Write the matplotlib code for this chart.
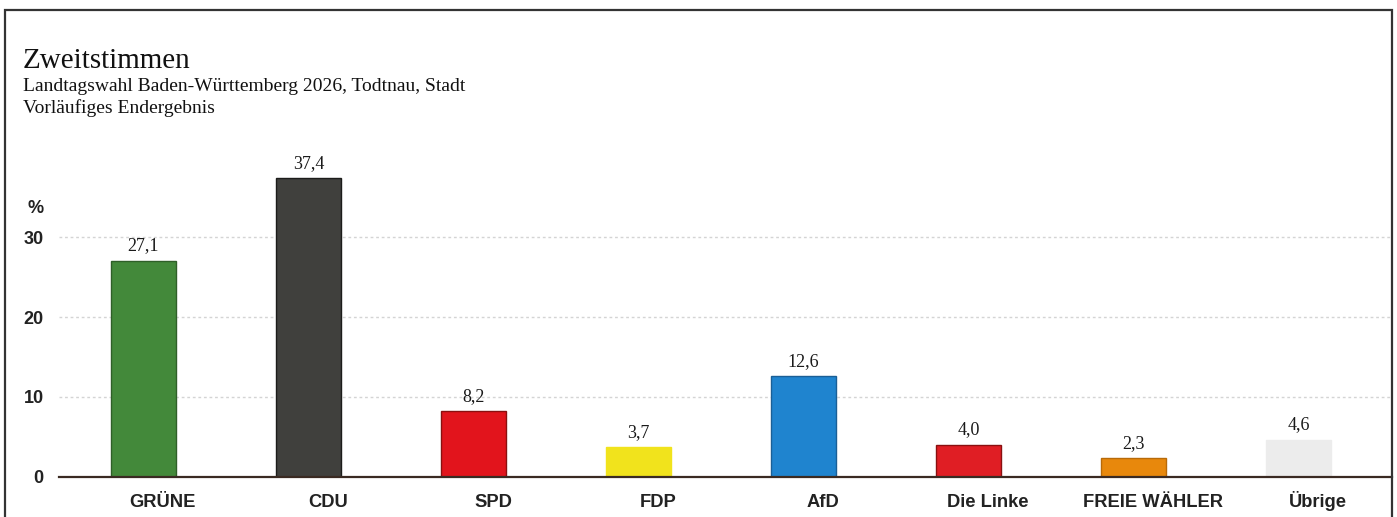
import numpy as np
import matplotlib.pyplot as plt
from matplotlib.patches import Rectangle

# ---- Daten ----
parteien = ['GRÜNE', 'CDU', 'SPD', 'FDP', 'AfD', 'Die Linke', 'FREIE WÄHLER', 'Übrige']
anteile = [27.1, 37.4, 8.2, 3.7, 12.6, 4.0, 2.3, 4.6]
farben = ['#43893a', '#40403d', '#e2141c', '#f1e31c', '#1f84cf', '#e01e24', '#e8880c', '#ececec']
kanten = ['#2f5f28', '#1c1c1a', '#8a1010', '#f1e31c', '#1a5f96', '#8a1010', '#b86a08', '#ececec']
yticks = [0, 10, 20, 30]

titel = 'Zweitstimmen'
untertitel = ['Landtagswahl Baden-Württemberg 2026, Todtnau, Stadt', 'Vorläufiges Endergebnis']

fig = plt.figure(figsize=(13.97, 5.17), dpi=100)
W, H = 1397, 517

# Achse in Pixeln: links 59, rechts 1392, y=0 bei 476.5
ymax = 38.5
px_per = 7.97
ax = fig.add_axes([59 / W, (H - 476.5) / H, (1392 - 59) / W, ymax * px_per / H])

x = np.arange(len(parteien))
ax.bar(x, anteile, width=0.394, color=farben, edgecolor=kanten, linewidth=1.0, zorder=3)

# Werte über den Balken
for xi, v in zip(x, anteile):
    ax.annotate(f'{v:.1f}'.replace('.', ','), (xi, v), xytext=(0, 4.5), textcoords='offset points',
                ha='center', va='bottom', fontsize=13, family='Liberation Serif', color='#1a1a1a')

# Parteinamen, leicht nach rechts versetzt wie im Original
for xi, name in zip(x, parteien):
    ax.annotate(name, (xi, 0), xycoords=('data', 'axes fraction'), xytext=(14, -22),
                textcoords='offset points', ha='center', va='baseline', fontsize=13.2,
                family='Liberation Sans', fontweight='bold', color='#222222')

ax.set_xlim(-0.512, 7.567)
ax.set_ylim(0, ymax)
ax.set_xticks(x)
ax.set_xticklabels([])
ax.set_yticks(yticks)
ax.set_yticklabels([str(t) for t in yticks], fontsize=13, family='Liberation Sans',
                   color='#222222', fontweight='bold')
ax.tick_params(axis='both', length=0)
ax.tick_params(axis='y', pad=11)

ax.grid(axis='y', linestyle=(0, (2, 2)), color='#d4d4d4', linewidth=1.0, zorder=0)
for s in ['top', 'right', 'left']:
    ax.spines[s].set_visible(False)
ax.spines['bottom'].set_color('#3a2a22')
ax.spines['bottom'].set_linewidth(1.6)
ax.spines['bottom'].set_zorder(4)

# Prozentzeichen über der Skala
fig.text(44 / W, 1 - 213 / H, '%', ha='right', va='baseline', fontsize=13,
         family='Liberation Sans', fontweight='bold', color='#222222')

# Titel
fig.text(23 / W, 1 - 68 / H, titel, ha='left', va='baseline', fontsize=21,
         family='Liberation Serif', color='#111111')
fig.text(23 / W, 1 - 91 / H, untertitel[0], ha='left', va='baseline', fontsize=14,
         family='Liberation Serif', color='#111111')
fig.text(23 / W, 1 - 113 / H, untertitel[1], ha='left', va='baseline', fontsize=14,
         family='Liberation Serif', color='#111111')

# Rahmen
fig.add_artist(Rectangle((5 / W, -0.1), (1392 - 5) / W, 1 - 10 / H + 0.1, transform=fig.transFigure,
                         fill=False, edgecolor='#333333', linewidth=1.6))

fig.savefig('out.png', dpi=100)
